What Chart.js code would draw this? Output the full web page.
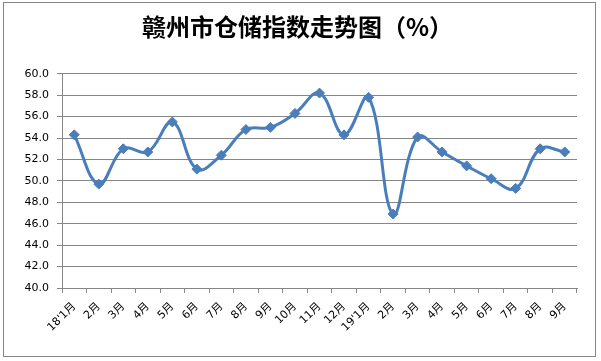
<!DOCTYPE html>
<html>
<head>
<meta charset="utf-8">
<script src="https://cdn.jsdelivr.net/npm/chart.js@4"></script>
<style>
  body { margin: 0; background: #fff; }
  #wrap { position: relative; width: 601px; height: 361px; }
  #frame { position: absolute; left: 3px; top: 2px; width: 591px; height: 353px; border: 1px solid #868686; pointer-events: none; }
</style>
</head>
<body>
<div id="wrap">
  <canvas id="storageChart" width="601" height="361"></canvas>
  <div id="frame"></div>
</div>
<script>
// 赣州市仓储指数
const months = ["18'1月", '2月', '3月', '4月', '5月', '6月', '7月', '8月', '9月', '10月', '11月', '12月',
                "19'1月", '2月', '3月', '4月', '5月', '6月', '7月', '8月', '9月'];
const indexValues = [54.3, 49.7, 53.0, 52.7, 55.5, 51.1, 52.4, 54.8, 55.0, 56.3, 58.2, 54.3,
                     57.8, 46.9, 54.1, 52.7, 51.4, 50.2, 49.3, 53.0, 52.7];
const yMin = 40, yMax = 60, yStep = 2;

document.addEventListener('DOMContentLoaded', function () {
    const ctx = document.getElementById('storageChart').getContext('2d');
    new Chart(ctx, {
        type: 'line',
        data: {
            labels: months,
            datasets: [{
                label: '仓储指数',
                data: indexValues,
                borderColor: '#4a7ebb',
                backgroundColor: '#4a7ebb',
                borderWidth: 3,
                tension: 0.4,
                pointStyle: 'rectRot',
                pointRadius: 5,
                pointBorderWidth: 1,
                fill: false
            }]
        },
        options: {
            responsive: false,
            animation: false,
            layout: { padding: { left: 18, right: 24, top: 0, bottom: 0 } },
            plugins: {
                legend: { display: false },
                tooltip: { enabled: false },
                title: {
                    display: true,
                    text: '赣州市仓储指数走势图（%）',
                    color: '#000',
                    font: { family: '"Noto Sans CJK SC"', size: 24, weight: 'bold' },
                    padding: { top: 12, bottom: 33 }
                }
            },
            scales: {
                x: {
                    offset: true,
                    grid: { offset: true, drawOnChartArea: false, drawTicks: true, tickLength: 5, color: '#868686' },
                    border: { color: '#868686' },
                    ticks: {
                        color: '#000',
                        minRotation: 45,
                        maxRotation: 45,
                        autoSkip: false,
                        padding: 7,
                        font: { family: '"DejaVu Sans", "Noto Sans CJK SC"', size: 11 }
                    },
                    afterFit: function (scale) { scale.height = 73; }
                },
                y: {
                    min: yMin,
                    max: yMax,
                    grid: { color: '#868686', tickLength: 5 },
                    border: { color: '#868686' },
                    ticks: {
                        stepSize: yStep,
                        color: '#000',
                        padding: 8,
                        font: { family: '"DejaVu Sans"', size: 11 },
                        callback: function (v) { return Number(v).toFixed(1); }
                    },
                    afterFit: function (scale) { scale.width = 44; }
                }
            }
        }
    });
});
</script>
</body>
</html>
